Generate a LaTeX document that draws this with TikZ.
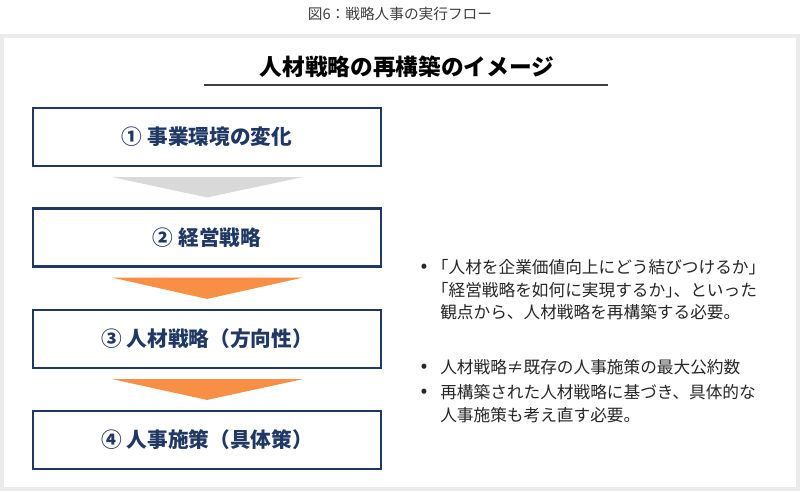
\documentclass[tikz,border=0pt]{standalone}
\usepackage{fontspec}
\setmainfont{Noto Sans CJK JP}
\usetikzlibrary{calc}
\definecolor{navy}{HTML}{1F3864}
\definecolor{framegray}{HTML}{EBEBEB}
\definecolor{arrowgray}{HTML}{D9D9D9}
\definecolor{arroworange}{HTML}{F88F45}
\definecolor{txt}{HTML}{262626}
\definecolor{captxt}{HTML}{404040}
\newcommand{\hwid}[1]{{\addfontfeature{RawFeature=+halt}#1}}
\tikzset{
  stepbox/.style={draw=navy, line width=1.6pt, fill=white, minimum width=261pt, minimum height=43.5pt, inner sep=0pt,
    font=\fontsize{15.5}{18}\selectfont\bfseries, text=navy},
  bodyline/.style={anchor=west, inner sep=0pt, text height=0.88em, text depth=0.12em,
    font=\fontsize{12.5}{17}\selectfont, text=txt},
  bulletmark/.style={anchor=center, inner sep=0pt, font=\fontsize{12}{17}\selectfont\bfseries, text=txt},
}
\begin{document}
\begin{tikzpicture}[x=0.75pt,y=-0.75pt]
\useasboundingbox (0,0) rectangle (800,491);
\fill[white] (0,0) rectangle (800,491);
\fill[framegray] (0,34) rectangle (800,491);
\fill[white] (4,38) rectangle (796,487);
% caption
\node[inner sep=0pt, font=\fontsize{11}{12}\selectfont, text=captxt] (cap) at (400,14) {図6：戦略人事の実行フロー};
% title
\node[inner sep=0pt, font=\fontsize{17}{20}\selectfont\bfseries, text=black] (title) at (407,67) {人材戦略の再構築のイメージ};
\coordinate (ulL) at (204,85);
\coordinate (ulR) at (608,85);
\draw[captxt, line width=1.2pt] (ulL) -- (ulR);
% boxes
\node[stepbox] (b1) at (207,137) {① 事業環境の変化};
\node[stepbox] (b2) at (207,237.5) {② 経営戦略};
\node[stepbox] (b3) at (207,339) {③ 人材戦略（方向性）};
\node[stepbox] (b4) at (207,440) {④ 人事施策（具体策）};
% chevron arrows between boxes
\fill[arrowgray] ($(b1.south)+(-95,10)$) -- ($(b1.south)+(96,10)$) -- ($(b2.north)+(0,-10)$) -- cycle;
\fill[arroworange] ($(b2.south)+(-95,10)$) -- ($(b2.south)+(96,10)$) -- ($(b3.north)+(0,-10)$) -- cycle;
\fill[arroworange] ($(b3.south)+(-95,10)$) -- ($(b3.south)+(96,10)$) -- ($(b4.north)+(0,-10)$) -- cycle;
% right text
\node[bulletmark] (d1) at (424,268) {•};
\node[bodyline] (l1) at (440,268) {\hwid{「}人材を企業価値向上にどう結びつけるか\hwid{」}};
\node[bodyline] (l2) at (440,291) {\hwid{「}経営戦略を如何に実現するか\hwid{」}、といった};
\node[bodyline] (l3) at (440,313) {観点から、人材戦略を再構築する必要。};
\node[bulletmark] (d2) at (424,368) {•};
\node[bodyline] (l4) at (440,368) {人材戦略≠既存の人事施策の最大公約数};
\node[bulletmark] (d3) at (424,393) {•};
\node[bodyline] (l5) at (440,393) {再構築された人材戦略に基づき、具体的な};
\node[bodyline] (l6) at (440,416) {人事施策も考え直す必要。};
\end{tikzpicture}
\end{document}
